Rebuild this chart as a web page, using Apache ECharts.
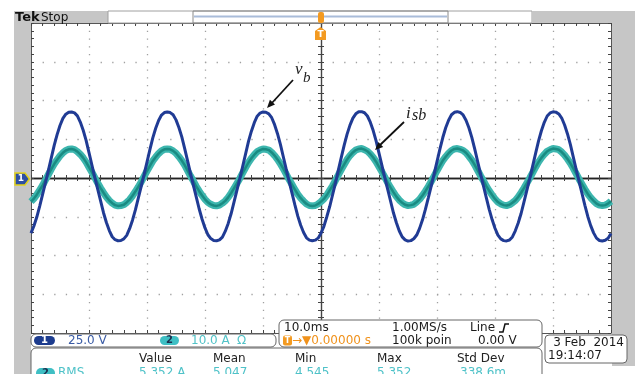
<!DOCTYPE html>
<html><head><meta charset="utf-8">
<script src="https://cdn.jsdelivr.net/npm/echarts@6/dist/echarts.min.js"></script>
<style>html,body{margin:0;padding:0;background:#fff}#c{width:635px;height:374px}</style>
</head><body><div id="c"></div>
<script>
// Sample timing of the captured record (ms), trigger at 0
const sampleStartMs = -50;
const sampleStepMs = 0.5;
// Channel 1: v_b (volts), 0.5 ms apart
const vb = [
 -35.6,-31.0,-25.2,-18.1,-10.5,-2.9,5.0,13.0,21.0,28.0,
 33.9,38.5,41.2,42.4,42.6,42.0,40.1,36.1,30.8,24.3,
 16.4,8.4,0.4,-7.2,-14.8,-22.4,-28.7,-33.9,-37.9,-39.8,
 -40.5,-40.3,-39.3,-37.0,-32.7,-27.2,-20.6,-13.0,-5.4,2.3,
 10.3,18.3,25.9,32.1,37.1,40.6,42.2,42.6,42.2,40.8,
 37.5,32.6,26.5,19.0,11.0,3.0,-4.8,-12.4,-20.0,-26.6,
 -32.2,-36.6,-39.1,-40.3,-40.5,-39.9,-38.1,-34.3,-29.3,-23.1,
 -15.6,-8.0,-0.4,7.6,15.6,23.6,30.2,35.7,39.9,41.9,
 42.6,42.4,41.4,38.9,34.4,28.6,21.7,13.7,5.7,-2.2,
 -9.8,-17.4,-24.6,-30.5,-35.2,-38.6,-40.1,-40.5,-40.1,-38.8,
 -35.6,
 -31.2,-25.0,-18.4,-10.8,-3.1,5.2,13.3,21.2,28.3,34.1,
 38.6,41.4,42.7,42.8,42.1,40.0,36.0,30.6,24.0,16.1,
 8.1,0.2,-7.4,-15.0,-22.6,-28.9,-34.2,-38.0,-39.9,-40.7,
 -40.4,-39.2,-36.8,-32.5,-27.0,-20.3,-12.8,-5.2,2.5,10.6,
 18.6,26.1,32.4,37.3,40.8,42.4,42.8,42.3,40.7,37.3,
 32.4,26.2,18.8,10.8,2.8,-5.0,-12.6,-20.2,-26.8,-32.4,
 -36.8,-39.3,-40.4,-40.6,-40.0,-38.0,-34.1,-29.0,-22.9,-15.4,
 -7.8,-0.2,7.8,15.9,23.8,30.5,35.9,40.0,42.0,42.7,
 42.5,41.3,38.7,34.2,28.4,21.5,13.5,5.5,-2.4,-10.0,
 -17.6,-24.8,-30.7,-35.4,-38.8,-40.3,-40.6,-40.2,-38.9,-35.8
];
// Channel 2: i_sb (amps), 0.5 ms apart
const isb = [
 -6.1,-5.3,-4.3,-3.1,-1.9,-0.5,0.9,2.3,3.6,4.7,
 5.7,6.5,7.1,7.4,7.5,7.3,6.8,6.1,5.2,4.1,
 2.8,1.5,0.1,-1.3,-2.6,-3.8,-4.9,-5.8,-6.5,-7.0,
 -7.2,-7.1,-6.9,-6.3,-5.6,-4.6,-3.5,-2.3,-1.0,0.4,
 1.8,3.1,4.4,5.4,6.3,7.0,7.4,7.5,7.4,7.0,
 6.4,5.5,4.5,3.3,1.9,0.5,-0.8,-2.2,-3.4,-4.5,
 -5.5,-6.3,-6.8,-7.1,-7.2,-7.0,-6.5,-5.9,-5.0,-3.9,
 -2.7,-1.4,-0.1,1.3,2.7,4.0,5.1,6.0,6.8,7.2,
 7.5,7.4,7.2,6.6,5.8,4.8,3.7,2.4,1.0,-0.4,
 -1.7,-3.0,-4.2,-5.2,-6.0,-6.7,-7.1,-7.2,-7.1,-6.7,
 -6.1,
 -5.4,-4.4,-3.2,-2.0,-0.6,0.8,2.2,3.5,4.8,5.8,
 6.6,7.2,7.5,7.6,7.3,6.9,6.2,5.3,4.2,2.9,
 1.6,0.2,-1.2,-2.5,-3.7,-4.8,-5.7,-6.4,-6.9,-7.1,
 -7.0,-6.8,-6.2,-5.5,-4.5,-3.4,-2.2,-0.9,0.5,1.9,
 3.2,4.5,5.5,6.4,7.1,7.5,7.6,7.4,7.1,6.5,
 5.6,4.6,3.4,2.0,0.6,-0.7,-2.1,-3.3,-4.4,-5.4,
 -6.2,-6.7,-7.0,-7.1,-6.9,-6.4,-5.8,-4.9,-3.8,-2.6,
 -1.3,0.0,1.4,2.8,4.1,5.2,6.1,6.9,7.3,7.6,
 7.5,7.3,6.7,5.9,4.9,3.8,2.5,1.1,-0.3,-1.6,
 -2.9,-4.1,-5.1,-5.9,-6.6,-7.0,-7.1,-7.0,-6.6,-6.0
];
// Scope settings
const timeRangeMs = [-50, 50], timePerDivMs = 10;
const ch1Range = [-100, 100], ch1PerDiv = 25;   // 25.0 V/div
const ch2Range = [-40, 40];                      // 10.0 A/div
const chanLabels = ['25.0 V', '10.0 A'];
const measHeader = ['Value', 'Mean', 'Min', 'Max', 'Std Dev'];
const measValues = ['5.352 A', '5.047', '4.545', '5.352', '338.6m'];

const FONT = "'DejaVu Sans', sans-serif";
const SERIF = "'Liberation Serif', 'DejaVu Serif', serif";
const pts = arr => arr.map((v, i) => [sampleStartMs + i * sampleStepMs, v]);

function txt(x, y, text, font, fill, align, extra) {
  return Object.assign({ type: 'text', x: x, y: y, z: 110,
    style: { text: text, font: font, fill: fill, align: align || 'left', textAlign: align || 'left',
      verticalAlign: 'middle', textVerticalAlign: 'middle' } }, extra || {});
}
function rect(x, y, w, h, fill, stroke, r, z) {
  return { type: 'rect', z: z == null ? 100 : z, shape: { x: x, y: y, width: w, height: h, r: r || 0 },
    style: { fill: fill, stroke: stroke || null, lineWidth: 1 } };
}

const tickLS = { color: '#444', width: 1 };
function xAx(extra) {
  return Object.assign({ type: 'value', min: timeRangeMs[0], max: timeRangeMs[1], interval: timePerDivMs,
    axisLabel: { show: false }, splitLine: { show: false },
    minorTick: { show: true, splitNumber: 5, length: 3, lineStyle: tickLS } }, extra);
}
function yAx(extra) {
  return Object.assign({ type: 'value', min: ch1Range[0], max: ch1Range[1], interval: ch1PerDiv,
    axisLabel: { show: false }, splitLine: { show: false },
    minorTick: { show: true, splitNumber: 5, length: 3, lineStyle: tickLS } }, extra);
}

const chart = echarts.init(document.getElementById('c'), null, { renderer: 'canvas' });
chart.setOption({
  animation: false,
  backgroundColor: '#ffffff',
  textStyle: { fontFamily: FONT },
  grid: { left: 31, top: 23, width: 580, height: 310, containLabel: false },
  xAxis: [
    xAx({ position: 'bottom',
      axisLine: { show: true, onZero: true, onZeroAxisIndex: 0, lineStyle: { color: '#222', width: 1.3 } },
      axisTick: { show: true, inside: false, length: 3, lineStyle: tickLS },
      splitLine: { show: true, lineStyle: { color: '#a0a0a0', width: 1.3, type: [1.3, 6.45] } } }),
    xAx({ position: 'bottom',
      axisLine: { show: true, onZero: true, onZeroAxisIndex: 0, lineStyle: { color: '#222', width: 1.3 } },
      axisTick: { show: true, inside: true, length: 3, lineStyle: tickLS } }),
    xAx({ position: 'bottom',
      axisLine: { show: true, onZero: false, lineStyle: { color: '#555', width: 1 } },
      axisTick: { show: true, inside: true, length: 3, lineStyle: tickLS },
      minorTick: { show: true, splitNumber: 5, length: 3, lineStyle: tickLS } }),
    xAx({ position: 'top',
      axisLine: { show: true, onZero: false, lineStyle: { color: '#555', width: 1 } },
      axisTick: { show: true, inside: true, length: 3, lineStyle: tickLS } })
  ],
  yAxis: [
    yAx({ position: 'left',
      axisLine: { show: true, onZero: true, onZeroAxisIndex: 0, lineStyle: { color: '#444', width: 1.2 } },
      axisTick: { show: true, inside: false, length: 3, lineStyle: tickLS },
      splitLine: { show: true, lineStyle: { color: '#a0a0a0', width: 1.3, type: [1.3, 10.3] } } }),
    yAx({ position: 'left',
      axisLine: { show: true, onZero: true, onZeroAxisIndex: 0, lineStyle: { color: '#444', width: 1.2 } },
      axisTick: { show: true, inside: true, length: 3, lineStyle: tickLS } }),
    yAx({ position: 'left',
      axisLine: { show: true, onZero: false, lineStyle: { color: '#555', width: 1 } },
      axisTick: { show: true, inside: true, length: 3, lineStyle: tickLS } }),
    yAx({ position: 'right',
      axisLine: { show: true, onZero: false, lineStyle: { color: '#555', width: 1 } },
      axisTick: { show: true, inside: true, length: 3, lineStyle: tickLS } }),
    { type: 'value', min: ch2Range[0], max: ch2Range[1], show: false }
  ],
  series: [
    { type: 'line', name: 'isb band', xAxisIndex: 0, yAxisIndex: 4, data: pts(isb), symbol: 'none',
      lineStyle: { color: '#3db6ae', width: 7 }, z: 3, silent: true },
    { type: 'line', name: 'isb', xAxisIndex: 0, yAxisIndex: 4, data: pts(isb), symbol: 'none',
      lineStyle: { color: '#1a8b82', width: 2.5 }, z: 4, silent: true },
    { type: 'line', name: 'vb', xAxisIndex: 0, yAxisIndex: 0, data: pts(vb), symbol: 'none',
      lineStyle: { color: '#203b94', width: 3 }, z: 5, silent: true }
  ],
  graphic: [
    // side and top bars
    rect(14, 11, 17, 363, '#c6c6c6', null, 0, 1),
    rect(612, 11, 23, 355, '#c6c6c6', null, 0, 1),
    rect(14, 11, 94, 12, '#c6c6c6', null, 0, 1),
    rect(108, 11, 424, 12, '#ffffff', '#a0a0a0', 0, 1),
    rect(532, 11, 103, 12, '#c6c6c6', null, 0, 1),
    rect(193, 11, 255, 12, null, '#8a8a8a', 0, 2),
    { type: 'line', z: 3, shape: { x1: 194, y1: 16.5, x2: 447, y2: 16.5 }, style: { stroke: '#a9bcd9', lineWidth: 2 } },
    txt(15, 17.5, 'Tek', 'bold 13px ' + FONT, '#111'),
    txt(41, 17.5, 'Stop', '12px ' + FONT, '#111'),
    // trigger markers
    rect(318, 12, 6, 11, '#f39a21', null, 2, 120),
    { type: 'polygon', z: 120, shape: { points: [[315, 31], [320.5, 27], [326, 31], [326, 40], [315, 40]] }, style: { fill: '#f39a21' } },
    txt(320.5, 35, 'T', 'bold 9px ' + FONT, '#ffffff', 'center', { z: 121 }),
    // channel 1 ground marker
    { type: 'polygon', z: 120, shape: { points: [[15, 173], [25, 173], [29.5, 179], [25, 185], [15, 185]] }, style: { fill: '#2d4fa3', stroke: '#e3d21a', lineWidth: 1.5 } },
    txt(21, 179, '1', 'bold 9px ' + FONT, '#ffffff', 'center', { z: 121 }),
    // annotations
    txt(295, 70, 'v', 'italic 17px ' + SERIF, '#222'),
    txt(303, 78, 'b', 'italic 15px ' + SERIF, '#222'),
    { type: 'line', z: 110, shape: { x1: 293, y1: 80, x2: 271, y2: 104 }, style: { stroke: '#111', lineWidth: 1.8 } },
    { type: 'polygon', z: 110, shape: { points: [[267, 108], [275.0, 104.5], [269.9, 99.8]] }, style: { fill: '#111' } },
    txt(406, 114, 'i', 'italic 17px ' + SERIF, '#222'),
    txt(412, 116, 'sb', 'italic 16px ' + SERIF, '#222'),
    { type: 'line', z: 110, shape: { x1: 404, y1: 122, x2: 379, y2: 146 }, style: { stroke: '#111', lineWidth: 1.8 } },
    { type: 'polygon', z: 110, shape: { points: [[375, 150], [383.2, 146.9], [378.4, 141.9]] }, style: { fill: '#111' } },
    // channel box
    rect(31, 334, 245, 13, '#ffffff', '#666', 5),
    rect(34, 336, 21, 9, '#1d3c8e', null, 4.5, 105),
    txt(44.5, 340.5, '1', 'bold 10px ' + FONT, '#ffffff', 'center'),
    txt(68, 340.5, chanLabels[0], '12px ' + FONT, '#3a5ba5'),
    rect(160, 336, 19, 9, '#3fbfc4', null, 4.5, 105),
    txt(169.5, 340.5, '2', 'bold 10px ' + FONT, '#1a3050', 'center'),
    txt(191, 340.5, chanLabels[1], '12px ' + FONT, '#52c3c8'),
    txt(237, 340.5, 'Ω', '12px ' + FONT, '#52c3c8'),
    // timebase box
    rect(279, 320, 263, 27, '#ffffff', '#666', 5),
    txt(284, 327.5, '10.0ms', '12px ' + FONT, '#1a1a1a'),
    txt(392, 327.5, '1.00MS/s', '12px ' + FONT, '#1a1a1a'),
    txt(470, 327.5, 'Line', '12px ' + FONT, '#1a1a1a'),
    { type: 'polyline', z: 110, shape: { points: [[499, 332], [503, 332], [505, 324], [509, 324]] }, style: { stroke: '#111', lineWidth: 1.5, fill: null } },
    rect(283, 335.5, 9, 10, '#f39a21', null, 2, 105),
    txt(287.5, 340.5, 'T', 'bold 8px ' + FONT, '#ffffff', 'center'),
    txt(292, 340.5, '→▼0.00000 s', '12px ' + FONT, '#f0921c'),
    txt(392, 340.5, '100k poin', '12px ' + FONT, '#1a1a1a'),
    txt(478, 340.5, '0.00 V', '12px ' + FONT, '#1a1a1a'),
    // date box
    rect(545, 335, 82, 28, '#ffffff', '#666', 4),
    txt(624, 343, '3 Feb  2014', '12px ' + FONT, '#1a1a1a', 'right'),
    txt(548, 356, '19:14:07', '12px ' + FONT, '#1a1a1a'),
    // measurement box
    rect(31, 348, 511, 40, '#ffffff', '#666', 5),
    txt(139, 359, measHeader[0], '12px ' + FONT, '#222'),
    txt(213, 359, measHeader[1], '12px ' + FONT, '#222'),
    txt(295, 359, measHeader[2], '12px ' + FONT, '#222'),
    txt(377, 359, measHeader[3], '12px ' + FONT, '#222'),
    txt(457, 359, measHeader[4], '12px ' + FONT, '#222'),
    rect(36, 368, 19, 10, '#3fbfc4', null, 5, 105),
    txt(45.5, 373, '2', 'bold 10px ' + FONT, '#1a3050', 'center'),
    txt(58, 373, 'RMS', '12px ' + FONT, '#4fc2c8'),
    txt(139, 373, measValues[0], '12px ' + FONT, '#4fc2c8'),
    txt(213, 373, measValues[1], '12px ' + FONT, '#4fc2c8'),
    txt(295, 373, measValues[2], '12px ' + FONT, '#4fc2c8'),
    txt(377, 373, measValues[3], '12px ' + FONT, '#4fc2c8'),
    txt(460, 373, measValues[4], '12px ' + FONT, '#4fc2c8')
  ]
});
</script>
</body></html>
